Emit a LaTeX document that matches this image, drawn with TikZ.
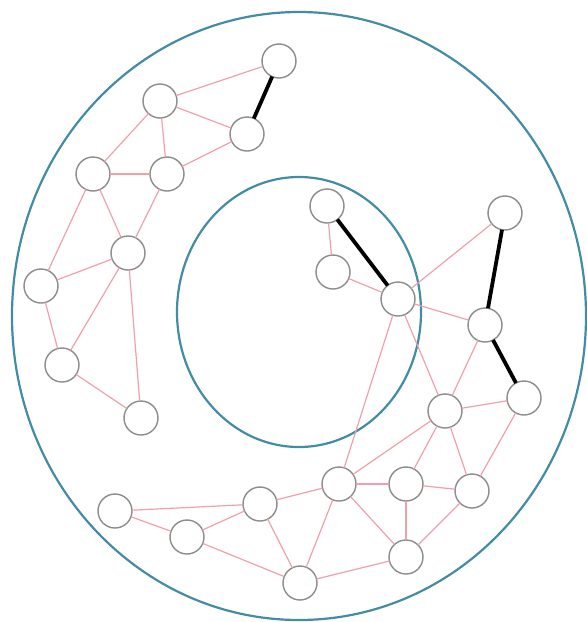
\documentclass[tikz,border=0pt]{standalone}
\usepackage{tikz}
\definecolor{ringblue}{RGB}{66,140,165}
\definecolor{edgepink}{RGB}{240,160,170}
\definecolor{nodegray}{RGB}{140,140,140}

\begin{document}
\begin{tikzpicture}[x=1pt,y=-1pt,
  v/.style={circle,draw=nodegray,line width=1.4pt,fill=white,minimum size=34pt,inner sep=0pt,outer sep=0pt},
  e/.style={draw=edgepink,line width=1.2pt},
  t/.style={draw=black,line width=3.8pt},
  ring/.style={draw=ringblue,line width=2.2pt}]
\useasboundingbox (0,0) rectangle (587,622);
\draw[ring] (299,316) ellipse [x radius=287pt,y radius=304pt];
\draw[ring] (299,312) ellipse [x radius=122pt,y radius=135pt];
% left group
\node[v] (v1) at (279,61) {};
\node[v] (v2) at (160,101) {};
\node[v] (v3) at (247,134) {};
\node[v] (v4) at (93,174) {};
\node[v] (v5) at (167,174) {};
\node[v] (v6) at (128,253) {};
\node[v] (v7) at (41,286) {};
\node[v] (v8) at (62,365) {};
\node[v] (v9) at (141,418) {};
% right group
\node[v] (v10) at (327,206) {};
\node[v] (v11) at (333,272) {};
\node[v] (v12) at (398,299) {};
\node[v] (v13) at (505,213) {};
\node[v] (v14) at (485,325) {};
\node[v] (v15) at (524,398) {};
\node[v] (v16) at (445,411) {};
\node[v] (v17) at (115,511) {};
\node[v] (v18) at (187,537) {};
\node[v] (v19) at (260,504) {};
\node[v] (v20) at (339,484) {};
\node[v] (v21) at (406,484) {};
\node[v] (v22) at (472,491) {};
\node[v] (v23) at (300,583) {};
\node[v] (v24) at (406,557) {};
\draw[e] (v1)--(v2); \draw[e] (v2)--(v3); \draw[e] (v2)--(v4); \draw[e] (v2)--(v5);
\draw[e] (v3)--(v5); \draw[e] (v4)--(v5); \draw[e] (v4)--(v6); \draw[e] (v4)--(v7);
\draw[e] (v5)--(v6); \draw[e] (v6)--(v7); \draw[e] (v6)--(v8); \draw[e] (v6)--(v9);
\draw[e] (v7)--(v8); \draw[e] (v8)--(v9);
\draw[e] (v10)--(v11); \draw[e] (v11)--(v12); \draw[e] (v12)--(v13); \draw[e] (v12)--(v14);
\draw[e] (v12)--(v16); \draw[e] (v12)--(v20); \draw[e] (v14)--(v16); \draw[e] (v16)--(v15);
\draw[e] (v17)--(v19); \draw[e] (v17)--(v18); \draw[e] (v18)--(v19); \draw[e] (v18)--(v23);
\draw[e] (v19)--(v20); \draw[e] (v19)--(v23); \draw[e] (v20)--(v23); \draw[e] (v20)--(v16);
\draw[e] (v20)--(v21); \draw[e] (v21)--(v16); \draw[e] (v16)--(v22); \draw[e] (v15)--(v22);
\draw[e] (v21)--(v22); \draw[e] (v21)--(v24); \draw[e] (v20)--(v24); \draw[e] (v22)--(v24);
\draw[e] (v23)--(v24);
\draw[t] (v1)--(v3); \draw[t] (v10)--(v12); \draw[t] (v13)--(v14); \draw[t] (v14)--(v15);
\end{tikzpicture}
\end{document}
